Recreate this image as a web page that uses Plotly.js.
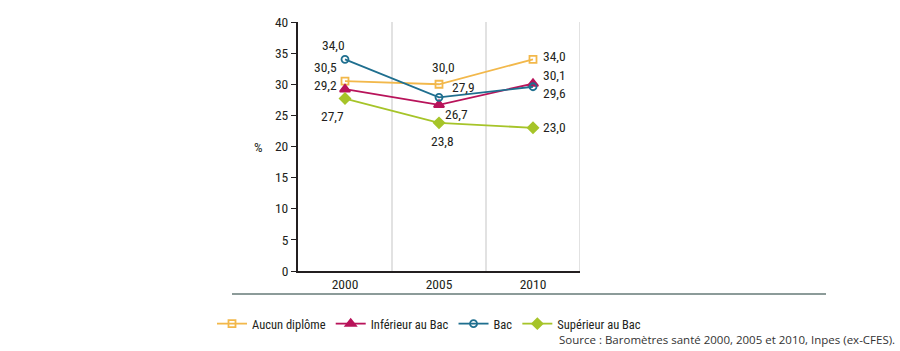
<!DOCTYPE html>
<html>
<head>
<meta charset="utf-8">
<script src="https://cdn.plot.ly/plotly-3.0.1.min.js"></script>
<style>
  html, body { margin: 0; padding: 0; background: #fff; }
  #chart { width: 900px; height: 351px; }
</style>
</head>
<body>
<div id="chart"></div>
<script>
// Années d'enquête
const years = ['2000', '2005', '2010'];

// Pourcentages par niveau de diplôme
const aucunDiplome = [30.5, 30.0, 34.0];
const inferieurBac = [29.2, 26.7, 30.1];
const bac = [34.0, 27.9, 29.6];
const superieurBac = [27.7, 23.8, 23.0];

const seriesNames = ['Aucun diplôme', 'Inférieur au Bac', 'Bac', 'Supérieur au Bac'];
const yTicks = [0, 5, 10, 15, 20, 25, 30, 35, 40];

const FONT = '"Roboto Condensed", "Liberation Sans Narrow", Roboto, sans-serif';
const TXT = '#231f20';

const styles = [
  { color: '#f2b84b', symbol: 'square-open', size: 7, lw: 1.8 },
  { color: '#b8135a', symbol: 'triangle-up', size: 9, lw: 1.8 },
  { color: '#1f6f8f', symbol: 'circle-open', size: 7, lw: 1.8 },
  { color: '#a6c429', symbol: 'diamond', size: 8, lw: 1.8 }
];

const allSeries = [aucunDiplome, inferieurBac, bac, superieurBac];

const traces = allSeries.map((vals, i) => ({
  type: 'scatter',
  mode: 'lines+markers',
  name: seriesNames[i],
  x: years,
  y: vals,
  line: { color: styles[i].color, width: styles[i].lw },
  marker: {
    color: styles[i].color,
    symbol: styles[i].symbol,
    size: styles[i].size,
    line: { color: styles[i].color, width: 1.8 }
  },
  cliponaxis: false,
  hoverinfo: 'skip'
}));

// Décalages des étiquettes de valeur (px) : [série][année] = [dx, dy]
const labelOffsets = [
  [[-20, 14], [4, 17], [21, 3]],
  [[-20, 4], [17, -9], [21, 9]],
  [[-12, 14], [24, 10], [21, -6]],
  [[-13, -17], [3, -18], [21, 1]]
];

const fmt = v => v.toFixed(1).replace('.', ',');

const annotations = [];
allSeries.forEach((vals, i) => {
  vals.forEach((v, j) => {
    annotations.push({
      // position de catégorie par indice (les libellés numériques seraient lus comme des nombres)
      x: j, y: v, xref: 'x', yref: 'y',
      text: fmt(v), showarrow: false,
      xanchor: 'center', yanchor: 'middle',
      xshift: labelOffsets[i][j][0], yshift: labelOffsets[i][j][1],
      font: { family: FONT, size: 13.5, color: TXT }
    });
  });
});

// Titre de l'axe des ordonnées
annotations.push({
  x: 0, xref: 'paper', y: 20, yref: 'y', xshift: -40,
  xanchor: 'center', yanchor: 'middle',
  text: '%', showarrow: false,
  font: { family: FONT, size: 13.5, color: TXT }
});

// Source
annotations.push({
  x: (897 - 298) / 282, xref: 'paper', xanchor: 'right',
  y: (271 - 339) / 249, yref: 'paper', yanchor: 'middle',
  showarrow: false,
  text: 'Source : Baromètres santé 2000, 2005 et 2010, Inpes (ex-CFES).',
  font: { family: '"Open Sans", "DejaVu Sans", sans-serif', size: 11.5, color: '#333' }
});

// Séparateurs verticaux entre années
const shapes = [0.5, 1.5, 2.5].map(xv => ({
  type: 'line', xref: 'x', yref: 'y',
  x0: xv, x1: xv, y0: 0, y1: 40,
  line: { color: '#d9d9d9', width: 1.5 },
  layer: 'below'
}));

// Filet horizontal sous le graphique
shapes.push({
  type: 'line', xref: 'paper', yref: 'paper',
  x0: (232 - 298) / 282, x1: (826 - 298) / 282,
  y0: (271 - 294) / 249, y1: (271 - 294) / 249,
  line: { color: '#8c9b99', width: 2 }
});

const layout = {
  width: 900, height: 351,
  margin: { l: 298, r: 320, t: 22, b: 80 },
  paper_bgcolor: '#fff',
  plot_bgcolor: '#fff',
  showlegend: true,
  legend: {
    orientation: 'h',
    x: (212 - 298) / 282, xanchor: 'left',
    y: (271 - 324) / 249, yanchor: 'middle',
    itemwidth: 30,
    font: { family: FONT, size: 12.5, color: TXT },
    bgcolor: 'rgba(0,0,0,0)',
    itemclick: false
  },
  xaxis: {
    type: 'category',
    range: [-0.5, 2.5],
    showgrid: false,
    zeroline: false,
    showline: true, linecolor: '#231f20', linewidth: 2,
    ticks: '',
    tickfont: { family: FONT, size: 13.5, color: TXT },
    fixedrange: true
  },
  yaxis: {
    range: [0, 40],
    tickvals: yTicks,
    showgrid: false,
    zeroline: false,
    showline: true, linecolor: '#231f20', linewidth: 2,
    ticks: 'outside', ticklen: 5, tickwidth: 1, tickcolor: '#231f20',
    tickfont: { family: FONT, size: 13.5, color: TXT },
    fixedrange: true
  },
  annotations: annotations,
  shapes: shapes
};

Plotly.newPlot('chart', traces, layout, { displayModeBar: false, staticPlot: true });
</script>
</body>
</html>
